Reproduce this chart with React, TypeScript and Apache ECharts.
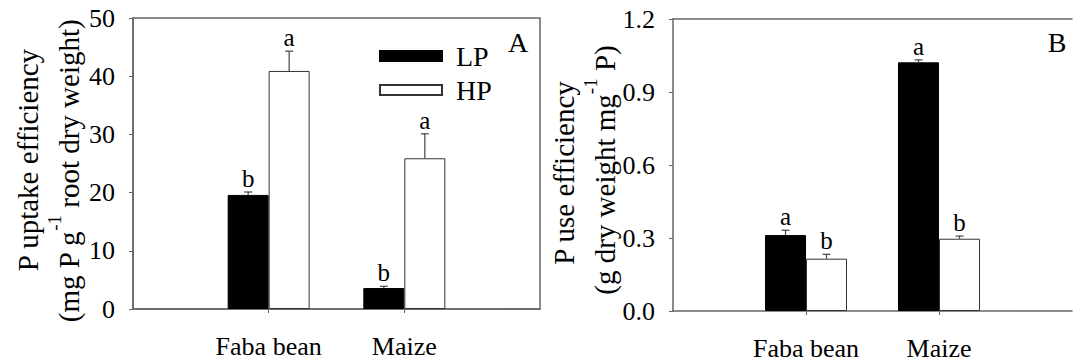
import React, { useEffect, useRef } from 'react';
import * as echarts from 'echarts';

// ---- data ----
const categories = ['Faba bean', 'Maize'];

const uptakeLP = [19.6, 3.6];
const uptakeLPErr = [0.5, 0.3];
const uptakeHP = [40.9, 25.9];
const uptakeHPErr = [3.4, 4.2];
const uptakeLPLetters = ['b', 'b'];
const uptakeHPLetters = ['a', 'a'];

const useLP = [0.312, 1.022];
const useLPErr = [0.02, 0.01];
const useHP = [0.215, 0.297];
const useHPErr = [0.018, 0.011];
const useLPLetters = ['a', 'a'];
const useHPLetters = ['b', 'b'];

const legendNames = ['LP', 'HP'];
const panelLabels = ['A', 'B'];

// ---- style ----
const SERIF = 'Liberation Serif';
const FRAME = '#666';
const ERR = '#444';
const FS_TICK = 26;
const FS_CAT = 26;
const FS_TITLE = 29;
const FS_LETTER = 25;
const FS_LEGEND = 28;
const BAR_W = 41;

const axisCats = ['', ...categories, ''];

function barData(vals: number[]) {
  return ['-', ...vals, '-'];
}

function errSeries(
  gi: number,
  vals: number[],
  errs: number[],
  letters: string[],
  offset: number
) {
  return {
    type: 'custom',
    xAxisIndex: gi,
    yAxisIndex: gi,
    z: 5,
    silent: true,
    data: vals.map((v, i) => [i + 1, v, errs[i]]),
    renderItem: (params: any, api: any) => {
      const x = api.value(0);
      const v = api.value(1);
      const e = api.value(2);
      const base = api.coord([x, v]);
      const top = api.coord([x, v + e]);
      const cx = base[0] + offset;
      return {
        type: 'group',
        children: [
          {
            type: 'line',
            shape: { x1: cx, y1: base[1], x2: cx, y2: top[1] },
            style: { stroke: ERR, lineWidth: 1.2 },
          },
          {
            type: 'line',
            shape: { x1: cx - 4, y1: top[1], x2: cx + 4, y2: top[1] },
            style: { stroke: ERR, lineWidth: 1.2 },
          },
          {
            type: 'text',
            x: cx,
            y: top[1] - 1,
            style: {
              text: letters[params.dataIndex],
              fill: '#000',
              fontSize: FS_LETTER,
              fontFamily: SERIF,
              align: 'center',
              verticalAlign: 'bottom',
            },
          },
        ],
      };
    },
  };
}

function xAxis(gi: number) {
  return {
    type: 'category',
    gridIndex: gi,
    data: axisCats,
    boundaryGap: false,
    axisLine: { show: true, lineStyle: { color: FRAME, width: 1.5 } },
    axisTick: {
      show: true,
      length: 4,
      interval: (i: number) => i === 1 || i === 2,
      lineStyle: { color: FRAME, width: 1 },
    },
    axisLabel: {
      interval: 0,
      margin: 24,
      fontSize: FS_CAT,
      fontFamily: SERIF,
      color: '#000',
    },
    splitLine: { show: false },
  };
}

// a bare top axis used only to draw the frame's top edge of panel B
function topFrameAxis(gi: number) {
  return {
    type: 'category',
    gridIndex: gi,
    position: 'top',
    data: axisCats,
    boundaryGap: false,
    axisLine: { show: true, lineStyle: { color: FRAME, width: 1.5 } },
    axisTick: { show: false },
    axisLabel: { show: false },
    splitLine: { show: false },
  };
}

function yAxis(gi: number, max: number, interval: number, digits: number) {
  return {
    type: 'value',
    gridIndex: gi,
    min: 0,
    max,
    interval,
    axisLine: { show: true, lineStyle: { color: FRAME, width: 1.5 } },
    axisTick: { show: true, length: 4, lineStyle: { color: FRAME, width: 1 } },
    axisLabel: {
      margin: 18,
      fontSize: FS_TICK,
      fontFamily: SERIF,
      color: '#000',
      formatter: (v: number) => v.toFixed(digits),
    },
    splitLine: { show: false },
  };
}

function bars(gi: number, lp: number[], hp: number[]) {
  return [
    {
      type: 'bar',
      name: legendNames[0],
      xAxisIndex: gi,
      yAxisIndex: gi,
      data: barData(lp),
      barWidth: BAR_W,
      barGap: '0%',
      itemStyle: { color: '#000', borderColor: '#000', borderWidth: 1 },
    },
    {
      type: 'bar',
      name: legendNames[1],
      xAxisIndex: gi,
      yAxisIndex: gi,
      data: barData(hp),
      barWidth: BAR_W,
      barGap: '0%',
      itemStyle: { color: '#fff', borderColor: '#333', borderWidth: 1 },
    },
  ];
}

const richTitle = {
  m: { fontSize: FS_TITLE, fontFamily: SERIF, lineHeight: 38, verticalAlign: 'bottom', fill: '#000' },
  s: { fontSize: 19, fontFamily: SERIF, lineHeight: 17, verticalAlign: 'top', fill: '#000' },
};

function vText(x: number, y: number, text: string) {
  return {
    type: 'text',
    x,
    y,
    rotation: Math.PI / 2,
    style: {
      text,
      fontSize: FS_TITLE,
      fontFamily: SERIF,
      fill: '#000',
      align: 'center',
      verticalAlign: 'middle',
      rich: richTitle,
    },
  };
}

function panelText(x: number, y: number, text: string) {
  return {
    type: 'text',
    x,
    y,
    style: { text, fontSize: FS_LEGEND, fontFamily: SERIF, fill: '#000', align: 'center', verticalAlign: 'middle' },
  };
}

export default function App() {
  const ref = useRef<HTMLDivElement>(null);
  useEffect(() => {
    if (!ref.current) return;
    const chart = echarts.init(ref.current, undefined, { renderer: 'svg' });
    chart.setOption({
      animation: false,
      backgroundColor: '#fff',
      textStyle: { fontFamily: SERIF },
      grid: [
        { left: 133, top: 18, width: 407, height: 291, show: true, borderColor: FRAME, borderWidth: 1.5 },
        { left: 673, top: 19, width: 408, height: 292, show: false },
      ],
      xAxis: [xAxis(0), xAxis(1), topFrameAxis(1)],
      yAxis: [yAxis(0, 50, 10, 0), yAxis(1, 1.2, 0.3, 1)],
      legend: {
        data: legendNames,
        orient: 'vertical',
        left: 379,
        top: 42,
        padding: 0,
        itemWidth: 62,
        itemHeight: 10,
        itemGap: 6,
        selectedMode: false,
        icon: 'rect',
        textStyle: { fontSize: FS_LEGEND, fontFamily: SERIF, color: '#000', padding: [0, 0, 0, 9] },
      },
      series: [
        ...bars(0, uptakeLP, uptakeHP),
        ...bars(1, useLP, useHP),
        errSeries(0, uptakeLP, uptakeLPErr, uptakeLPLetters, -BAR_W / 2),
        errSeries(0, uptakeHP, uptakeHPErr, uptakeHPLetters, BAR_W / 2),
        errSeries(1, useLP, useLPErr, useLPLetters, -BAR_W / 2),
        errSeries(1, useHP, useHPErr, useHPLetters, BAR_W / 2),
      ],
      graphic: [
        vText(23, 160, '{m|P uptake efficiency}'),
        vText(64, 171, '{m|(mg P g}{s|-1}{m| root dry weight)}'),
        vText(559, 173, '{m|P use efficiency}'),
        vText(600, 170, '{m|(g dry weight mg}{s|-1}{m| P)}'),
        panelText(518, 42, panelLabels[0]),
        panelText(1057, 42, panelLabels[1]),
      ],
    });
    return () => chart.dispose();
  }, []);
  return (
    <div
      ref={ref}
      style={{ position: 'fixed', left: 0, top: 0, width: 1075, height: 363, background: '#fff' }}
    />
  );
}
